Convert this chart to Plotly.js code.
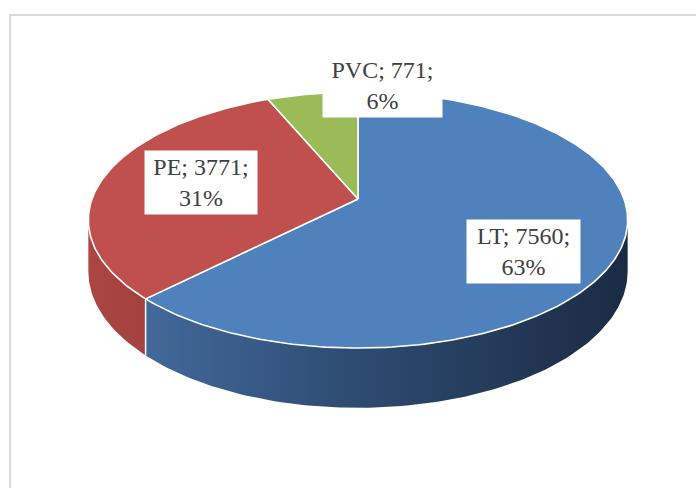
<!DOCTYPE html>
<html>
<head>
<meta charset="utf-8">
<script src="https://cdn.plot.ly/plotly-3.0.1.min.js"></script>
<style>html,body{margin:0;padding:0;background:#fff;}#chart{width:696px;height:488px;}</style>
</head>
<body>
<div id="chart"></div>
<script>
// ---- data ----
const categories = ['LT', 'PE', 'PVC'];
const values = [7560, 3771, 771];
const percentLabels = ['63%', '31%', '6%'];
const topColors = ['#4F81BD', '#C0504D', '#9BBB59'];

// ---- geometry / style (layout only) ----
const CX = 358, CY = 199;      // projected pie centre (pixels via axes)
const A = 266, B = 124.6, K = 0.164, H = 50; // ellipse radii, perspective, thickness
const SIL = Math.acos(-K) * 180 / Math.PI;   // silhouette angle (right side)

function proj(deg, drop) {
  const t = deg * Math.PI / 180;
  const X = Math.sin(t), Z = Math.cos(t);
  const den = 1 + K * Z;
  return [CX + A * X / den, CY + (-B * Z + drop) / den];
}
function arc(a0, a1, drop) {
  const pts = [];
  const n = Math.max(2, Math.ceil(Math.abs(a1 - a0)));
  for (let i = 0; i <= n; i++) pts.push(proj(a0 + (a1 - a0) * i / n, drop));
  return pts;
}

const total = values.reduce((s, v) => s + v, 0);
const starts = [], ends = [];
let acc = 0;
values.forEach(v => { starts.push(acc / total * 360); acc += v; ends.push(acc / total * 360); });

const traces = [];
const sideFills = [
  {type: 'horizontal', colorscale: [[0, '#42699B'], [0.45, '#2D4A70'], [1, '#1B2B44']]},
  {type: 'horizontal', colorscale: [[0, '#AB4643'], [1, '#A3423F']]},
  {type: 'horizontal', colorscale: [[0, '#86A24C'], [1, '#6F8840']]}
];
// side walls
values.forEach((v, i) => {
  const a0 = Math.max(starts[i], SIL), a1 = Math.min(ends[i], 360 - SIL);
  if (a0 >= a1) return;
  const pts = arc(a0, a1, 0).concat(arc(a1, a0, H));
  pts.push(pts[0]);
  traces.push({
    type: 'scatter', mode: 'lines', x: pts.map(p => p[0]), y: pts.map(p => p[1]),
    fill: 'toself', fillgradient: sideFills[i], line: {width: 0, color: 'rgba(0,0,0,0)'},
    hoverinfo: 'skip', showlegend: false
  });
});
// white separators on the wall
ends.forEach(a => {
  if (a > SIL && a < 360 - SIL) {
    const p0 = proj(a, 0), p1 = proj(a, H);
    traces.push({type: 'scatter', mode: 'lines', x: [p0[0], p1[0]], y: [p0[1], p1[1]],
      line: {color: '#ffffff', width: 1.5}, hoverinfo: 'skip', showlegend: false});
  }
});
// top faces
values.forEach((v, i) => {
  const c = [CX, CY];
  const pts = [c].concat(arc(starts[i], ends[i], 0));
  pts.push(c);
  traces.push({
    type: 'scatter', mode: 'lines', x: pts.map(p => p[0]), y: pts.map(p => p[1]),
    fill: 'toself', fillcolor: topColors[i], line: {color: '#ffffff', width: 1.6},
    name: categories[i], hoverinfo: 'skip', showlegend: false
  });
});

// label boxes (positions)
const labelPos = [[523.5, 251.5, 113], [201, 182.5, 112], [382.5, 85, 119]];
const annotations = categories.map((c, i) => ({
  x: labelPos[i][0], y: labelPos[i][1], xref: 'x', yref: 'y',
  text: c + '; ' + values[i] + ';<br>' + percentLabels[i],
  showarrow: false, bgcolor: '#ffffff', borderpad: 0,
  width: labelPos[i][2], height: 63,
  font: {family: '"Liberation Serif", "Times New Roman", serif', size: 24, color: '#404040'},
  align: 'center', valign: 'middle'
}));

const layout = {
  width: 696, height: 488,
  margin: {l: 0, r: 0, t: 0, b: 0},
  paper_bgcolor: '#ffffff', plot_bgcolor: '#ffffff',
  xaxis: {range: [0, 696], visible: false, fixedrange: true},
  yaxis: {range: [488, 0], visible: false, fixedrange: true},
  showlegend: false,
  annotations: annotations,
  shapes: [{type: 'rect', xref: 'x', yref: 'y', x0: 10, y0: 15, x1: 720, y1: 520,
    line: {color: '#D9D9D9', width: 2}, fillcolor: 'rgba(0,0,0,0)', layer: 'below'}]
};

Plotly.newPlot('chart', traces, layout, {staticPlot: true, displayModeBar: false});
</script>
</body>
</html>
